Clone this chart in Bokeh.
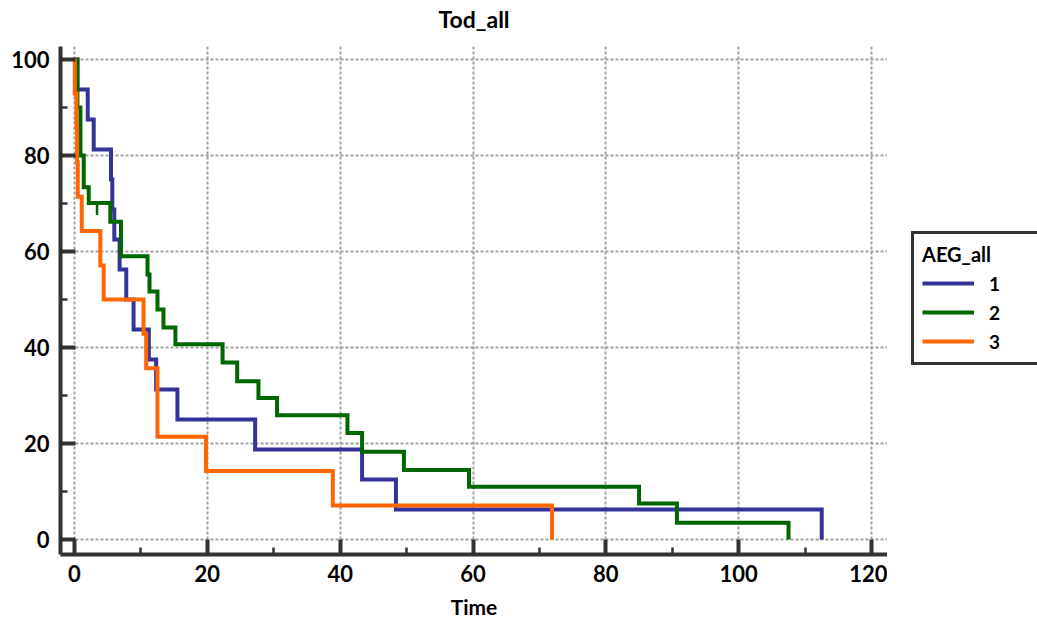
from bokeh.plotting import figure
from bokeh.models import Range1d, SingleIntervalTicker, Legend, LegendItem, ColumnDataSource
from bokeh.layouts import row, column
from bokeh.core.properties import value
from bokeh.embed import file_html
from bokeh.resources import INLINE

# ---- data ----
title_text = "Tod_all"
x_label = "Time"
legend_title = "AEG_all"
groups = ["1", "2", "3"]
colors = ["#333399", "#006600", "#ff6600"]

g1_times = [0.45, 2.0, 2.9, 5.5, 5.7, 6.0, 6.8, 7.8, 8.9, 11.2, 12.3, 15.5, 27.2, 43.3, 48.4, 112.5]
g1_surv = [93.75, 87.5, 81.25, 75.0, 68.75, 62.5, 56.25, 50.0, 43.75, 37.5, 31.25, 25.0, 18.75, 12.5, 6.25, 0.0]

g2_times = [0.45, 0.9, 1.4, 2.15, 5.4, 7.0, 11.0, 11.3, 12.5, 13.4, 15.2, 22.3, 24.5, 27.7, 30.5, 41.1, 43.3, 49.6, 59.4, 85.0, 90.7, 107.5]
g2_surv = [90.0, 80.0, 73.4, 70.1, 66.2, 59.0, 55.2, 51.7, 47.9, 44.2, 40.7, 36.9, 33.0, 29.5, 25.9, 22.2, 18.3, 14.5, 11.0, 7.5, 3.5, 0.0]

g3_times = [0.05, 0.3, 0.4, 0.5, 1.1, 3.9, 4.4, 10.4, 10.8, 12.5, 19.8, 38.9, 71.9]
g3_surv = [92.9, 85.7, 78.6, 71.4, 64.3, 57.1, 50.0, 42.9, 35.7, 21.4, 14.3, 7.1, 0.0]

g2_censor_times = [3.4]
g2_censor_surv = [70.1]

x_ticks_interval = 20
y_ticks_interval = 20

FONT = "Lato"
AX = "#333333"
W, H = 1037, 621
TOP = 46          # title strip height
LEG_W = 150       # legend strip width


def step_path(times, surv):
    xs, ys = [0.0], [100.0]
    prev = 100.0
    for t, s in zip(times, surv):
        xs += [t, t]
        ys += [prev, s]
        prev = s
    return xs, ys


def blank(width, height, xr, yr):
    f = figure(width=width, height=height, output_backend="svg", toolbar_location=None,
               x_range=xr, y_range=yr, x_axis_type=None, y_axis_type=None,
               min_border_left=0, min_border_right=0, min_border_top=0, min_border_bottom=0)
    f.outline_line_color = None
    f.xgrid.visible = False
    f.ygrid.visible = False
    f.background_fill_color = "white"
    f.border_fill_color = "white"
    return f


# ---- title strip ----
top = blank(W, TOP, Range1d(0, W), Range1d(0, TOP))
top.text(x=[(60 + W - LEG_W) / 2], y=[TOP - 18], text=[title_text], text_align="center",
         text_baseline="middle", text_font=value(FONT), text_font_style="bold",
         text_font_size="23px", text_color="black")

# ---- main plot ----
p = figure(width=W - LEG_W, height=H - TOP, output_backend="svg", toolbar_location=None,
           x_range=Range1d(-2.1, 122.4), y_range=Range1d(-3.1, 102.7),
           min_border_left=60, min_border_right=0, min_border_top=0, min_border_bottom=64)
p.outline_line_color = None
p.background_fill_color = "white"
p.border_fill_color = "white"

for ax, interval in ((p.xaxis[0], x_ticks_interval), (p.yaxis[0], y_ticks_interval)):
    ax.ticker = SingleIntervalTicker(interval=interval, num_minor_ticks=2)
    ax.axis_line_width = 4
    ax.axis_line_color = AX
    ax.major_tick_in = 15
    ax.major_tick_out = 0
    ax.major_tick_line_width = 4
    ax.major_tick_line_color = AX
    ax.minor_tick_in = 7
    ax.minor_tick_out = 0
    ax.minor_tick_line_width = 2.5
    ax.minor_tick_line_color = AX
    ax.major_label_text_font = FONT
    ax.major_label_text_font_style = "bold"
    ax.major_label_text_font_size = "22px"
    ax.major_label_text_color = "black"

p.xaxis.major_label_standoff = 10
p.yaxis.major_label_standoff = 11
p.xaxis.axis_label = x_label
p.xaxis.axis_label_text_font = FONT
p.xaxis.axis_label_text_font_style = "bold"
p.xaxis.axis_label_text_font_size = "21px"
p.xaxis.axis_label_text_color = "black"
p.xaxis.axis_label_standoff = 9

for g in (p.xgrid[0], p.ygrid[0]):
    g.ticker = SingleIntervalTicker(interval=20)
    g.grid_line_color = "#a0a0a0"
    g.grid_line_dash = "3 2"
    g.grid_line_width = 2

for times, surv, col in ((g1_times, g1_surv, colors[0]), (g2_times, g2_surv, colors[1]), (g3_times, g3_surv, colors[2])):
    xs, ys = step_path(times, surv)
    p.line(xs, ys, line_color=col, line_width=4, line_join="miter")

cs = ColumnDataSource(dict(x=g2_censor_times, y0=g2_censor_surv,
                           y1=[v - 2.5 for v in g2_censor_surv]))
p.segment(x0="x", y0="y0", x1="x", y1="y1", source=cs, line_color=colors[1], line_width=2.5)

# ---- legend strip ----
lg = blank(LEG_W, H - TOP, Range1d(0, 1), Range1d(0, 1))
leg_renderers = [lg.line(x=[5, 6], y=[5, 5], line_color=c, line_width=4) for c in colors]

legend = Legend(items=[LegendItem(label=g, renderers=[r]) for g, r in zip(groups, leg_renderers)],
                location=(24, 189))
legend.title = legend_title
legend.title_text_font = FONT
legend.title_text_font_style = "bold"
legend.title_text_font_size = "20px"
legend.title_text_color = "black"
legend.title_standoff = 4
legend.label_text_font = FONT
legend.label_text_font_style = "bold"
legend.label_text_font_size = "19px"
legend.label_text_color = "black"
legend.glyph_width = 52
legend.glyph_height = 26
legend.label_height = 26
legend.label_standoff = 15
legend.label_width = 200
legend.padding = 8
legend.spacing = 3
legend.margin = 0
legend.border_line_color = AX
legend.border_line_alpha = 1.0
legend.border_line_width = 3.5
legend.background_fill_color = "white"
legend.background_fill_alpha = 1.0
lg.add_layout(legend, "center")

layout = column(top, row(p, lg))
open("out.html", "w").write(file_html(layout, INLINE))
